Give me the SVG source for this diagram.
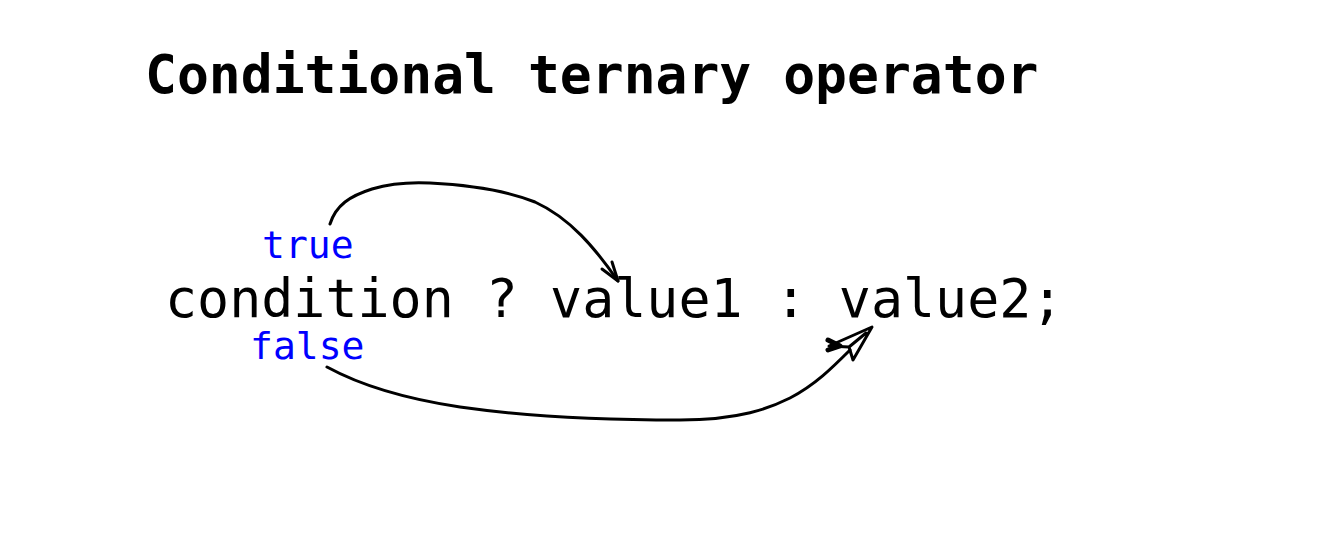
<svg xmlns="http://www.w3.org/2000/svg" width="1335" height="537" viewBox="0 0 1335 537">
  <style>
    .mono { font-family: "DejaVu Sans Mono", "Liberation Mono", monospace; }
    .title { font-size: 53px; font-weight: bold; fill: #000; }
    .code { font-size: 53.3px; fill: #000; }
    .label { font-size: 38px; fill: #0000ff; }
    .curve { fill: none; stroke: #000; stroke-width: 3; stroke-linecap: round; stroke-linejoin: round; }
  </style>
  <rect width="1335" height="537" fill="#fff"/>
  <g id="title">
    <text class="mono title" x="145" y="93">Conditional ternary operator</text>
  </g>
  <g id="expression">
    <text class="mono code" x="165" y="317">condition ? value1 : value2;</text>
  </g>
  <g id="label-true">
    <text class="mono label" x="262" y="258">true</text>
  </g>
  <g id="label-false">
    <text class="mono label" x="250" y="359">false</text>
  </g>
  <g id="connectors">
    <path class="curve" d="M330,224 C336,205 350,196 372,189 C392,183 410,182 430,183 C470,185 505,190 535,202 C570,218 595,248 618,281"/>
    <path class="curve" d="M602,269 L618,281 L612,262"/>
    <path class="curve" d="M327,367 C360,385 400,398 460,407 C530,417 600,420 680,420 C740,420 770,408 790,398 C815,385 832,368 850,350"/>
    <path class="curve" d="M829,346 L872,327 L853,360 L849,347 Z M849,347 L866,333"/>
    <path class="curve" style="stroke-width:5" d="M828,340 L840,346 L828,350"/>
  </g>
</svg>
